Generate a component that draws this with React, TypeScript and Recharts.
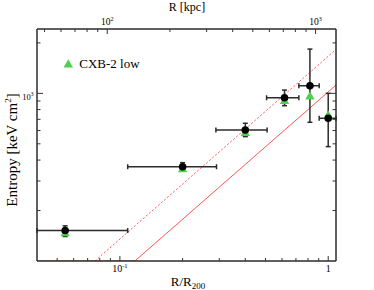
import React from 'react';
import { ComposedChart, XAxis, YAxis, Scatter, Line, ErrorBar, Legend } from 'recharts';

// ---- data ----
const rOverR200 = [0.0546, 0.2, 0.4, 0.617, 0.817, 1.0];
const rBinLow = [0.04, 0.109, 0.289, 0.506, 0.723, 0.905];
const rBinHigh = [0.109, 0.291, 0.509, 0.723, 0.905, 1.09];
const entropy = [152, 365, 605, 941, 1110, 710];
const entropyErrLow = [140, 346, 552, 844, 672, 481];
const entropyErrHigh = [162, 386, 663, 1046, 1837, 1000];
const entropyCxb2Low = [147, 354, 583, 904, 964, 743];

// model lines (two red lines)
const baselineX = [0.04, 0.118, 1.09];
const baselineK = [100, 100, 1120];
const scaledX = [0.0759, 1.09];
const scaledK = [100, 1828];

const R200_KPC = 1150;
const xDomain = [0.04, 1.09];
const yDomain = [100, 2420];
const kpcDomain = [xDomain[0] * R200_KPC, xDomain[1] * R200_KPC];

const xTicks = [0.05, 0.06, 0.07, 0.08, 0.09, 0.1, 0.2, 0.3, 0.4, 0.5, 0.6, 0.7, 0.8, 0.9, 1];
const kpcTicks = [50, 60, 70, 80, 90, 100, 200, 300, 400, 500, 600, 700, 800, 900, 1000];
const yTicks = [200, 300, 400, 500, 600, 700, 800, 900, 1000, 2000];
const xTickLabels = [
  { value: 0.1, base: '10', exp: '-1' },
  { value: 1, base: '1', exp: '' },
];
const kpcTickLabels = [
  { value: 100, base: '10', exp: '2' },
  { value: 1000, base: '10', exp: '3' },
];
const yTickLabels = [{ value: 1000, base: '10', exp: '3' }];
const legendName = 'CXB-2 low';

// ---- tables built from the arrays ----
const points = rOverR200.map((x, i) => ({
  x,
  y: entropy[i],
  ex: [x - rBinLow[i], rBinHigh[i] - x],
  ey: [entropy[i] - entropyErrLow[i], entropyErrHigh[i] - entropy[i]],
}));
const cxbPoints = rOverR200.map((x, i) => ({ x, y: entropyCxb2Low[i] }));
const kpcPoints = rOverR200.map((x, i) => ({ x: x * R200_KPC, y: entropy[i] }));
const baselineData = baselineX.map((x, i) => ({ x, y: baselineK[i] }));
const scaledData = scaledX.map((x, i) => ({ x, y: scaledK[i] }));

const FONT = '"Liberation Serif", "DejaVu Serif", serif';
const GREEN = '#4fd04f';
const RED = '#ff5555';
const AXIS = '#2b2b2b';
const TICK = '#333';

const tri = (cx: number, cy: number) =>
  `M${cx},${cy - 4.8} L${cx + 4.7},${cy + 3.4} L${cx - 4.7},${cy + 3.4} Z`;

const findLabel = (list: any[], v: number) => list.find((l) => Math.abs(l.value - v) < 1e-9);

const BottomTick = (props: any) => {
  const { x, y, payload } = props;
  const lab = findLabel(xTickLabels, payload.value);
  const len = lab ? 5 : 3;
  return (
    <g>
      <line x1={x} x2={x} y1={y} y2={y - len} stroke={TICK} strokeWidth={1} />
      {lab && (
        <text x={x} y={y + 10.7} textAnchor="middle" fontFamily={FONT} fontSize={10} fill="#000">
          {lab.base}
          {lab.exp && (
            <tspan fontSize={6.5} dy={-4}>
              {lab.exp}
            </tspan>
          )}
        </text>
      )}
    </g>
  );
};

const TopTick = (props: any) => {
  const { x, y, payload } = props;
  const lab = findLabel(kpcTickLabels, payload.value);
  const len = lab ? 5 : 3;
  return (
    <g>
      <line x1={x} x2={x} y1={y} y2={y + len} stroke={TICK} strokeWidth={1} />
      {lab && (
        <text x={x} y={y - 4} textAnchor="middle" fontFamily={FONT} fontSize={9.5} fill="#000">
          {lab.base}
          <tspan fontSize={6} dy={-4}>
            {lab.exp}
          </tspan>
        </text>
      )}
    </g>
  );
};

const LeftTick = (props: any) => {
  const { x, y, payload } = props;
  const lab = findLabel(yTickLabels, payload.value);
  const len = lab ? 6 : 3.5;
  return (
    <g>
      <line x1={x} x2={x + len} y1={y} y2={y} stroke={TICK} strokeWidth={1} />
      {lab && (
        <text x={x - 3.5} y={y + 6.5} textAnchor="end" fontFamily={FONT} fontSize={8.5} fill="#000">
          {lab.base}
          <tspan fontSize={5.5} dy={-4}>
            {lab.exp}
          </tspan>
        </text>
      )}
    </g>
  );
};

const RightTick = (props: any) => {
  const { x, y, payload } = props;
  const lab = findLabel(yTickLabels, payload.value);
  const len = lab ? 6 : 3.5;
  return <line x1={x} x2={x - len} y1={y} y2={y} stroke={TICK} strokeWidth={1} />;
};

const BlackDot = (props: any) => <circle cx={props.cx} cy={props.cy} r={3.8} fill="#000" />;
const NoShape = () => <g />;
const GreenTri = (props: any) => <path d={tri(props.cx, props.cy)} fill={GREEN} />;

const bottomTitle = () => (
  <text x={188} y={286} textAnchor="middle" fontFamily={FONT} fontSize={13} fill="#000">
    R/R
    <tspan fontSize={9} dy={2.5}>
      200
    </tspan>
  </text>
);
const topTitle = () => (
  <text x={187} y={11} textAnchor="middle" fontFamily={FONT} fontSize={12} fill="#000">
    R [kpc]
  </text>
);
const leftTitle = () => (
  <text
    x={16.7}
    y={150}
    transform="rotate(-90, 16.7, 150)"
    textAnchor="middle"
    fontFamily={FONT}
    fontSize={15}
    fill="#000"
  >
    Entropy [keV cm
    <tspan fontSize={9} dy={-6}>
      2
    </tspan>
    <tspan dy={6}>]</tspan>
  </text>
);

const LegendBox = () => (
  <svg width={100} height={20} style={{ display: 'block' }}>
    <path d={tri(10.3, 10)} fill={GREEN} />
    <text x={21.3} y={14.3} fontFamily={FONT} fontSize={13} fill="#000">
      {legendName}
    </text>
  </svg>
);

export default function App() {
  return (
    <div style={{ position: 'absolute', left: 0, top: 0, width: 374, height: 290, background: '#fff' }}>
      <ComposedChart width={374} height={290} margin={{ top: 0, right: 0, bottom: 0, left: 0 }}>
        <XAxis
          xAxisId="bottom"
          dataKey="x"
          type="number"
          scale="log"
          domain={xDomain}
          allowDataOverflow
          ticks={xTicks}
          interval={0}
          height={29}
          orientation="bottom"
          tickSize={0}
          tickMargin={0}
          tickLine={false}
          tick={<BottomTick />}
          axisLine={{ stroke: AXIS, strokeWidth: 1.5 }}
          label={bottomTitle}
        />
        <XAxis
          xAxisId="top"
          dataKey="x"
          type="number"
          scale="log"
          domain={kpcDomain}
          allowDataOverflow
          ticks={kpcTicks}
          interval={0}
          height={29}
          orientation="top"
          tickSize={0}
          tickMargin={0}
          tickLine={false}
          tick={<TopTick />}
          axisLine={{ stroke: AXIS, strokeWidth: 1.5 }}
          label={topTitle}
        />
        <YAxis
          yAxisId="left"
          dataKey="y"
          type="number"
          scale="log"
          domain={yDomain}
          allowDataOverflow
          ticks={yTicks}
          interval={0}
          width={37}
          orientation="left"
          tickSize={0}
          tickMargin={0}
          tickLine={false}
          tick={<LeftTick />}
          axisLine={{ stroke: AXIS, strokeWidth: 1.5 }}
          label={leftTitle}
        />
        <YAxis
          yAxisId="right"
          dataKey="y"
          type="number"
          scale="log"
          domain={yDomain}
          allowDataOverflow
          ticks={yTicks}
          interval={0}
          width={38}
          orientation="right"
          tickSize={0}
          tickMargin={0}
          tickLine={false}
          tick={<RightTick />}
          axisLine={{ stroke: AXIS, strokeWidth: 1.5 }}
        />
        <Scatter
          data={kpcPoints}
          dataKey="y"
          xAxisId="top"
          yAxisId="right"
          shape={NoShape}
          legendType="none"
          isAnimationActive={false}
        />
        <Line
          data={baselineData}
          dataKey="y"
          xAxisId="bottom"
          yAxisId="left"
          type="linear"
          stroke={RED}
          strokeWidth={1}
          dot={false}
          activeDot={false}
          legendType="none"
          isAnimationActive={false}
        />
        <Line
          data={scaledData}
          dataKey="y"
          xAxisId="bottom"
          yAxisId="left"
          type="linear"
          stroke={RED}
          strokeWidth={1}
          strokeDasharray="2 2"
          dot={false}
          activeDot={false}
          legendType="none"
          isAnimationActive={false}
        />
        <Scatter
          data={points}
          dataKey="y"
          xAxisId="bottom"
          yAxisId="left"
          shape={NoShape}
          legendType="none"
          isAnimationActive={false}
        >
          <ErrorBar dataKey="ex" direction="x" width={2.5} stroke={AXIS} strokeWidth={1.5} isAnimationActive={false} />
          <ErrorBar dataKey="ey" direction="y" width={2.5} stroke={AXIS} strokeWidth={1.5} isAnimationActive={false} />
        </Scatter>
        <Scatter
          name={legendName}
          data={cxbPoints}
          dataKey="y"
          xAxisId="bottom"
          yAxisId="left"
          shape={GreenTri}
          fill={GREEN}
          isAnimationActive={false}
        />
        <Scatter
          data={points}
          dataKey="y"
          xAxisId="bottom"
          yAxisId="left"
          shape={BlackDot}
          legendType="none"
          isAnimationActive={false}
        />
        <Legend
          layout="horizontal"
          verticalAlign="middle"
          align="center"
          wrapperStyle={{ position: 'absolute', left: 58, top: 54, width: 100, height: 20 }}
          content={LegendBox}
        />
      </ComposedChart>
    </div>
  );
}
